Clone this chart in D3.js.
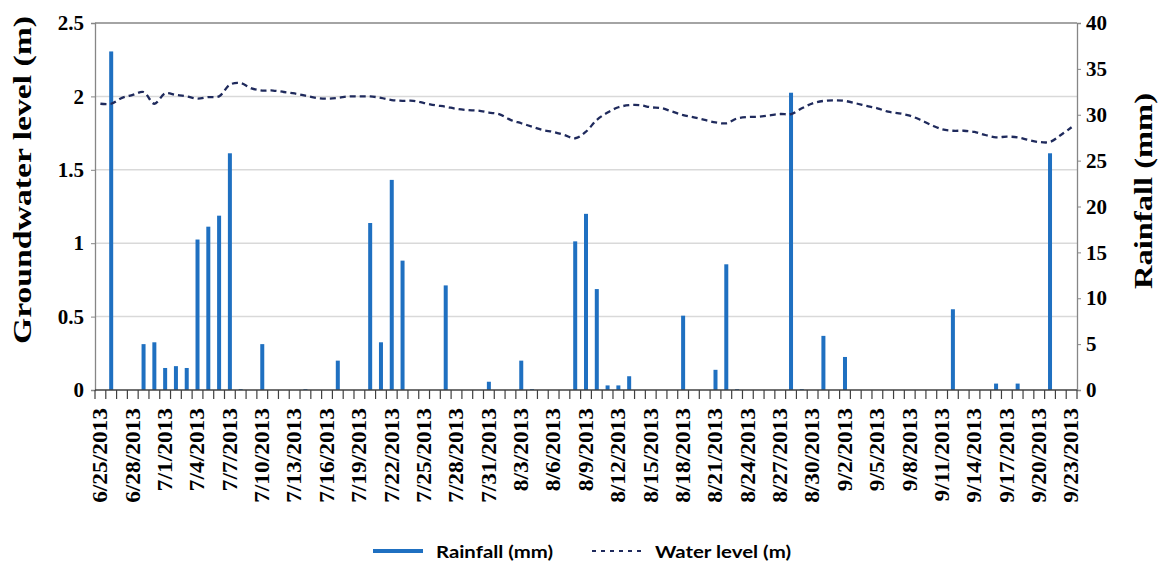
<!DOCTYPE html>
<html>
<head>
<meta charset="utf-8">
<script src="https://cdn.jsdelivr.net/npm/d3@7"></script>
<style>
  html, body { margin: 0; padding: 0; background: #fff; }
  svg { display: block; }
</style>
</head>
<body>
<svg id="chart" width="1159" height="565"></svg>
<script>
const dates = [
  "6/25/2013","6/26/2013","6/27/2013","6/28/2013","6/29/2013","6/30/2013",
  "7/1/2013","7/2/2013","7/3/2013","7/4/2013","7/5/2013","7/6/2013","7/7/2013","7/8/2013","7/9/2013","7/10/2013",
  "7/11/2013","7/12/2013","7/13/2013","7/14/2013","7/15/2013","7/16/2013","7/17/2013","7/18/2013","7/19/2013","7/20/2013",
  "7/21/2013","7/22/2013","7/23/2013","7/24/2013","7/25/2013","7/26/2013","7/27/2013","7/28/2013","7/29/2013","7/30/2013","7/31/2013",
  "8/1/2013","8/2/2013","8/3/2013","8/4/2013","8/5/2013","8/6/2013","8/7/2013","8/8/2013","8/9/2013","8/10/2013",
  "8/11/2013","8/12/2013","8/13/2013","8/14/2013","8/15/2013","8/16/2013","8/17/2013","8/18/2013","8/19/2013","8/20/2013",
  "8/21/2013","8/22/2013","8/23/2013","8/24/2013","8/25/2013","8/26/2013","8/27/2013","8/28/2013","8/29/2013","8/30/2013","8/31/2013",
  "9/1/2013","9/2/2013","9/3/2013","9/4/2013","9/5/2013","9/6/2013","9/7/2013","9/8/2013","9/9/2013","9/10/2013",
  "9/11/2013","9/12/2013","9/13/2013","9/14/2013","9/15/2013","9/16/2013","9/17/2013","9/18/2013","9/19/2013","9/20/2013",
  "9/21/2013","9/22/2013","9/23/2013"
];

const rainfall = [
  0, 36.9, 0, 0, 5.0, 5.2,
  2.4, 2.6, 2.4, 16.4, 17.8, 19.0, 25.8, 0.1, 0, 5.0,
  0, 0, 0, 0.1, 0, 0, 3.2, 0, 0, 18.2,
  5.2, 22.9, 14.1, 0, 0, 0, 11.4, 0, 0, 0, 0.9,
  0, 0, 3.2, 0.1, 0, 0, 0, 16.2, 19.2, 11.0,
  0.5, 0.5, 1.5, 0, 0, 0, 0, 8.1, 0, 0,
  2.2, 13.7, 0.1, 0, 0, 0, 0, 32.4, 0.1, 0, 5.9,
  0, 3.6, 0, 0, 0, 0, 0, 0, 0, 0,
  0, 8.8, 0, 0, 0, 0.7, 0, 0.7, 0, 0,
  25.8, 0, 0
];

const waterLevel = [
  1.95, 1.95, 1.99, 2.01, 2.03, 1.95,
  2.02, 2.01, 2.00, 1.985, 1.995, 2.00, 2.08, 2.09, 2.055, 2.04,
  2.04, 2.03, 2.02, 2.005, 1.99, 1.985, 1.99, 2.00, 2.00, 2.00,
  1.99, 1.975, 1.97, 1.97, 1.955, 1.94, 1.93, 1.915, 1.907, 1.903, 1.89,
  1.878, 1.84, 1.817, 1.794, 1.771, 1.758, 1.737, 1.715, 1.76, 1.84,
  1.89, 1.926, 1.94, 1.94, 1.926, 1.92, 1.896, 1.873, 1.857, 1.84,
  1.823, 1.817, 1.85, 1.86, 1.862, 1.871, 1.88, 1.88, 1.919, 1.953, 1.969,
  1.973, 1.969, 1.953, 1.935, 1.919, 1.896, 1.885, 1.869, 1.84, 1.805,
  1.776, 1.766, 1.766, 1.758, 1.737, 1.721, 1.726, 1.721, 1.703, 1.689,
  1.69, 1.737, 1.79
];

const leftTicks = [0, 0.5, 1, 1.5, 2, 2.5];
const rightTicks = [0, 5, 10, 15, 20, 25, 30, 35, 40];
const xLabelDates = dates.filter((d, i) => i % 3 === 0);

const svg = d3.select("#chart");
const L = 95, R = 1077, T = 23, B = 390;

const x = d3.scaleBand().domain(dates).range([L, R]).padding(0);
const yL = d3.scaleLinear().domain([0, 2.5]).range([B, T]);
const yR = d3.scaleLinear().domain([0, 40]).range([B, T]);

const serif = "'Liberation Serif', 'Times New Roman', serif";

// gridlines
svg.append("g").selectAll("line").data(leftTicks.filter(v => v > 0 && v < 2.5)).join("line")
  .attr("x1", L).attr("x2", R)
  .attr("y1", d => yL(d)).attr("y2", d => yL(d))
  .attr("stroke", "#d9d9d9").attr("stroke-width", 1.5);

// top border
svg.append("line").attr("x1", L).attr("x2", R).attr("y1", yL(2.5)).attr("y2", yL(2.5))
  .attr("stroke", "#868686").attr("stroke-width", 1.3);

// bars
svg.append("g").selectAll("rect").data(rainfall.map((v, i) => ({d: dates[i], v})).filter(o => o.v > 0)).join("rect")
  .attr("x", o => x(o.d) + x.bandwidth() / 2 - 2)
  .attr("width", 4)
  .attr("y", o => yR(o.v))
  .attr("height", o => B - yR(o.v))
  .attr("fill", "#1f70c1");

// water level line
const line = d3.line()
  .x((v, i) => x(dates[i]) + x.bandwidth() / 2)
  .y(v => yL(v))
  .curve(d3.curveCatmullRom.alpha(0.5));
svg.append("path").datum(waterLevel)
  .attr("d", line)
  .attr("fill", "none")
  .attr("stroke", "#1f2a5c")
  .attr("stroke-width", 2.3)
  .attr("stroke-dasharray", "6,4");

// left axis
const gL = svg.append("g").attr("transform", `translate(${L},0)`)
  .call(d3.axisLeft(yL).tickValues(leftTicks).tickSize(4).tickPadding(7).tickFormat(d3.format("")));
gL.select(".domain").attr("stroke", "#868686").attr("stroke-width", 1.3);
gL.selectAll(".tick line").attr("stroke", "#868686");
gL.selectAll("text").attr("font-family", serif).attr("font-weight", "bold").attr("font-size", 21).attr("fill", "#000");

// right axis
const gR = svg.append("g").attr("transform", `translate(${R},0)`)
  .call(d3.axisRight(yR).tickValues(rightTicks).tickSize(4).tickPadding(5));
gR.select(".domain").attr("stroke", "#868686").attr("stroke-width", 1.3);
gR.selectAll(".tick line").attr("stroke", "#868686");
gR.selectAll("text").attr("font-family", serif).attr("font-weight", "bold").attr("font-size", 21).attr("fill", "#000");

// bottom axis: boundary ticks
const boundaries = d3.range(dates.length + 1);
svg.append("g").selectAll("line").data(boundaries).join("line")
  .attr("x1", i => x.range()[0] + i * x.step()).attr("x2", i => x.range()[0] + i * x.step())
  .attr("y1", B).attr("y2", B + 9)
  .attr("stroke", "#404040").attr("stroke-width", 1.2);
svg.append("line").attr("x1", L).attr("x2", R).attr("y1", B).attr("y2", B)
  .attr("stroke", "#404040").attr("stroke-width", 1.3);

const stretch = 1.17;
const gX = svg.append("g").attr("transform", `translate(0,${B})`)
  .call(d3.axisBottom(x).tickValues(xLabelDates).tickSize(0));
gX.select(".domain").remove();
gX.selectAll("text")
  .attr("font-family", serif).attr("font-weight", "bold").attr("font-size", 20).attr("fill", "#000")
  .attr("text-anchor", "end")
  .attr("transform", `rotate(-90) scale(${stretch},1)`)
  .attr("x", -18 / stretch).attr("y", 0).attr("dy", "0.34em");

// axis titles
svg.append("text")
  .attr("transform", "translate(31,180) rotate(-90)")
  .attr("text-anchor", "middle")
  .attr("font-family", serif).attr("font-weight", "bold").attr("font-size", 26)
  .attr("textLength", 328).attr("lengthAdjust", "spacingAndGlyphs")
  .text("Groundwater level (m)");

svg.append("text")
  .attr("transform", "translate(1152,191) rotate(-90)")
  .attr("text-anchor", "middle")
  .attr("font-family", serif).attr("font-weight", "bold").attr("font-size", 26)
  .attr("textLength", 196).attr("lengthAdjust", "spacingAndGlyphs")
  .text("Rainfall (mm)");

// legend
const lg = svg.append("g");
lg.append("line").attr("x1", 373).attr("x2", 423).attr("y1", 551).attr("y2", 551)
  .attr("stroke", "#1f70c1").attr("stroke-width", 4);
lg.append("text").attr("x", 436).attr("y", 558)
  .attr("font-family", "Lato, 'Open Sans', sans-serif").attr("font-weight", "bold").attr("font-size", 17)
  .attr("textLength", 117).attr("lengthAdjust", "spacingAndGlyphs")
  .text("Rainfall (mm)");
lg.append("line").attr("x1", 592).attr("x2", 646).attr("y1", 551).attr("y2", 551)
  .attr("stroke", "#1f2a5c").attr("stroke-width", 2).attr("stroke-dasharray", "4,5");
lg.append("text").attr("x", 655).attr("y", 558)
  .attr("font-family", "Lato, 'Open Sans', sans-serif").attr("font-weight", "bold").attr("font-size", 17)
  .attr("textLength", 136).attr("lengthAdjust", "spacingAndGlyphs")
  .text("Water level (m)");
</script>
</body>
</html>
